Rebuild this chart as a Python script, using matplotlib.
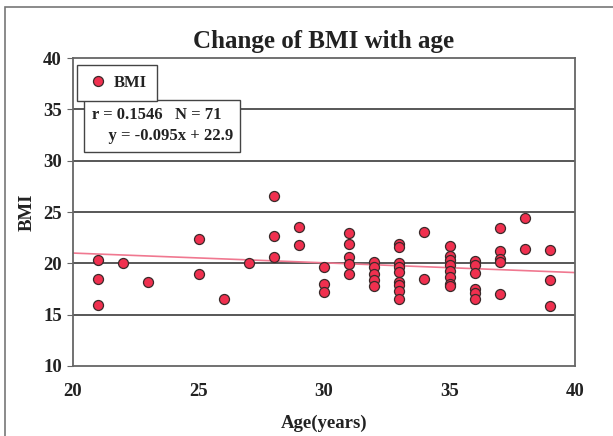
import numpy as np
import matplotlib.pyplot as plt
from matplotlib.patches import Rectangle

# data (age in years, BMI)
age = [21, 21, 21,
       22, 23,
       25, 25, 26, 27,
       28, 28, 28,
       29, 29,
       30, 30, 30,
       31, 31, 31, 31, 31,
       32, 32, 32, 32, 32,
       33, 33, 33, 33, 33, 33, 33, 33, 33,
       34, 34,
       35, 35, 35, 35, 35, 35, 35, 35,
       36, 36, 36, 36, 36, 36,
       37, 37, 37, 37, 37,
       38, 38,
       39, 39, 39]
bmi = [20.3, 18.5, 15.9,
       20.0, 18.2,
       22.4, 19.0, 16.5, 20.0,
       26.6, 22.7, 20.6,
       23.5, 21.8,
       19.6, 18.0, 17.2,
       23.0, 21.9, 20.6, 19.9, 19.0,
       20.1, 19.6, 19.0, 18.4, 17.8,
       21.9, 21.6, 20.0, 19.6, 19.2, 18.2, 17.9, 17.3, 16.5,
       23.1, 18.5,
       21.7, 20.7, 20.3, 19.8, 19.3, 18.7, 18.0, 17.8,
       20.2, 19.8, 19.1, 17.5, 17.1, 16.5,
       23.4, 21.2, 20.4, 20.1, 17.0,
       24.4, 21.4,
       21.3, 18.4, 15.8]

slope = -0.095
intercept = 22.9
r_value = 0.1546
n_value = 71

serif = ['Liberation Serif', 'DejaVu Serif']

fig = plt.figure(figsize=(6.13, 4.36), dpi=100)
ax = fig.add_axes([73/613, 1-366/436, 502/613, 308/436])

# outer frame of the figure
fig.patches.append(Rectangle((5/613, -0.1), 1.1, 1.1 - 7/436,
                             transform=fig.transFigure, fill=False,
                             edgecolor='#777777', lw=1.2, clip_on=False))

for yv in [15, 20, 25, 30, 35]:
    ax.axhline(yv, color='#4a4a4a', lw=1.3, zorder=1)

xl = np.array([20, 40])
ax.plot(xl, slope*xl + intercept, color='#f07890', lw=1.2, zorder=2)

ax.plot(age, bmi, 'o', ms=7.2, mfc='#f0304f', mec='#3a2a2a', mew=0.9,
        label='BMI', zorder=3, linestyle='none')

ax.set_xlim(20, 40)
ax.set_ylim(10, 40)
ax.set_xticks([20, 25, 30, 35, 40])
ax.set_yticks([10, 15, 20, 25, 30, 35, 40])
ax.tick_params(axis='x', length=0, pad=12)
ax.tick_params(axis='y', length=4, direction='out', color='#666666', pad=4)
for lab in ax.get_xticklabels() + ax.get_yticklabels():
    lab.set_fontfamily(serif)
    lab.set_fontweight('bold')
    lab.set_fontsize(13.5)
    lab.set_color('#222222')
for s in ax.spines.values():
    s.set_color('#666666')
    s.set_linewidth(1.3)

ax.set_title('Change of BMI with age', fontfamily=serif, fontweight='bold',
             fontsize=18, color='#222222', pad=7)
ax.set_xlabel('Age(years)', fontfamily=serif, fontweight='bold',
              fontsize=13.5, color='#222222', labelpad=11)
ax.set_ylabel('BMI', fontfamily=serif, fontweight='bold',
              fontsize=13.5, color='#222222', labelpad=5)

leg = ax.legend(loc='upper left', bbox_to_anchor=(0.008, 0.978),
                borderaxespad=0,
                prop={'family': serif, 'weight': 'bold', 'size': 12},
                fancybox=False, edgecolor='#444444', framealpha=1,
                handletextpad=0.3, borderpad=0.6, handlelength=1.3)
leg.get_frame().set_linewidth(1.0)
leg.set_zorder(6)
for t in leg.get_texts():
    t.set_color('#222222')

ax.text(0.037, 0.84, 'r = %.4f   N = %d\n    y = %.3fx + %.1f'
        % (r_value, n_value, slope, intercept),
        transform=ax.transAxes, ha='left', va='top', fontfamily=serif,
        fontweight='bold', fontsize=12, color='#222222', linespacing=1.4,
        bbox=dict(boxstyle='square,pad=0.45', fc='white', ec='#444444', lw=1.0),
        zorder=4)

fig.savefig('out.png', dpi=100)
